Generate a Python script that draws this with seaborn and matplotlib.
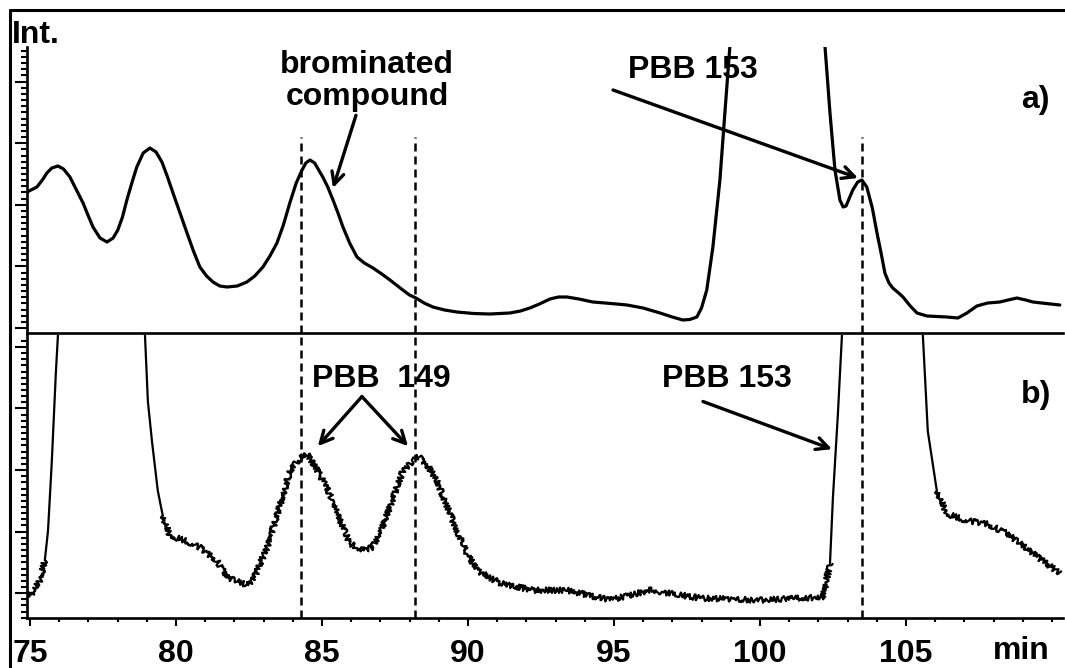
import numpy as np
import matplotlib
matplotlib.use("Agg")
import matplotlib.pyplot as plt
import seaborn as sns
from matplotlib.lines import Line2D
from matplotlib.ticker import FixedLocator

sns.set_style("white")
plt.rcParams['font.family'] = ['Liberation Sans', 'DejaVu Sans']
plt.rcParams['font.weight'] = 'bold'
plt.rcParams['text.color'] = 'black'
plt.rcParams['xtick.color'] = 'black'
plt.rcParams['ytick.color'] = 'black'
plt.rcParams['axes.edgecolor'] = 'black'

# trace a): retention time (min) and intensity (arbitrary units)
time_a = [74.90, 75.24, 75.45, 75.58, 75.75, 75.96, 76.15, 76.37, 76.82, 77.00,
          77.16, 77.40, 77.64, 77.85, 78.01, 78.17, 78.32, 78.50, 78.66, 78.88,
          79.11, 79.32, 79.52, 79.70, 79.90, 80.14, 80.38, 80.60, 80.82, 81.05,
          81.27, 81.50, 81.75, 82.10, 82.43, 82.70, 82.98, 83.22, 83.46, 83.68,
          83.90, 84.12, 84.32, 84.45, 84.59, 84.75, 85.03, 85.20, 85.38, 85.55,
          85.72, 85.95, 86.20, 86.45, 86.75, 87.05, 87.33, 87.55, 87.77, 88.00,
          88.22, 88.50, 88.80, 89.20, 89.62, 90.20, 90.75, 91.44, 91.80, 92.12,
          92.45, 92.81, 93.10, 93.39, 93.80, 94.28, 94.90, 95.45, 96.00, 96.58,
          97.00, 97.36, 97.60, 97.84, 98.00, 98.18, 98.39, 98.63, 98.80, 98.97,
          100.6, 102.23, 102.40, 102.57, 102.74, 102.85, 102.95, 103.18, 103.35, 103.49,
          103.66, 103.85, 104.01, 104.15, 104.28, 104.42, 104.55, 104.75, 104.90, 105.15,
          105.38, 105.72, 106.40, 106.78, 107.09, 107.43, 107.80, 108.22, 108.50, 108.80,
          109.10, 109.35, 109.80, 110.27]
int_a = [141, 146, 154, 160, 165, 167, 164, 156, 130, 117,
         106, 95, 91, 95, 103, 116, 133, 151, 166, 180,
         185, 181, 171, 157, 140, 120, 100, 82, 66, 57,
         51, 47, 46, 47, 51, 57, 66, 77, 90, 108,
         130, 150, 163, 170, 173, 170, 156, 146, 133, 120,
         106, 90, 76, 70, 65, 59, 53, 48, 43, 38,
         35, 30, 26, 23, 21, 19.5, 19, 20, 22, 25,
         29, 34, 36, 36, 34, 31, 29.5, 28, 25, 20,
         16, 13, 13.5, 16, 25, 43, 86, 153, 220, 286,
         2500, 286, 220, 163, 133, 126, 127, 143, 151, 153,
         146, 125, 100, 80, 60, 50, 45, 40, 36, 27,
         20, 17, 16, 15, 20, 27, 30, 31, 33, 35,
         33, 31, 29.5, 28]

# trace b)
time_b = [74.90, 75.10, 75.34, 75.51, 75.62, 75.75, 75.89, 75.96, 77.4, 78.94,
          79.04, 79.18, 79.38, 79.55, 79.79, 80.31, 80.82, 81.40, 81.75, 82.43,
          82.64, 83.12, 83.56, 83.90, 84.25, 84.49, 84.86, 85.27, 85.62, 85.96,
          86.40, 86.71, 86.99, 87.40, 87.77, 88.29, 88.63, 88.94, 89.28, 89.62,
          89.97, 90.31, 91.10, 92.23, 93.39, 94.86, 96.23, 97.95, 100.0, 101.37,
          102.16, 102.40, 102.50, 102.67, 102.81, 104.0, 105.58, 105.75, 106.06, 106.40,
          107.09, 107.77, 108.46, 109.35, 110.27]
int_b = [23, 26, 38, 58, 88, 158, 248, 285, 3000, 285,
         218, 178, 128, 103, 83, 78, 71, 58, 41, 33,
         38, 71, 113, 148, 161, 165, 148, 125, 98, 75,
         68, 71, 85, 118, 148, 163, 153, 138, 113, 88,
         65, 48, 35, 28, 28, 18, 28, 20, 18, 20,
         21, 55, 121, 205, 285, 3000, 285, 188, 128, 105,
         98, 95, 85, 65, 45]

marker_times = [84.28, 88.2, 103.49]
x_major = [75, 80, 85, 90, 95, 100, 105]
x_labels = ['75', '80', '85', '90', '95', '100', '105']

W, H = 1065, 668
fig = plt.figure(figsize=(W / 100, H / 100), dpi=100)
ax_a = fig.add_axes([27 / W, 1 - 333 / H, 1036 / W, 286 / H])
ax_b = fig.add_axes([27 / W, 50 / H, 1036 / W, 283 / H])

sns.lineplot(x=time_a, y=int_a, ax=ax_a, color='black', lw=2.3,
             solid_joinstyle='round', solid_capstyle='round')

# trace b is noisy on the baseline / small peaks, clean on the steep flanks
tb = np.array(time_b)
ib = np.array(int_b, dtype=float)
steep = np.abs(np.diff(ib)) / (np.diff(tb) * 29.2) > 5
start = 0
for k in range(1, len(steep) + 1):
    if k == len(steep) or steep[k] != steep[start]:
        n_before = len(ax_b.get_lines())
        sns.lineplot(x=tb[start:k + 1], y=ib[start:k + 1], ax=ax_b, color='black',
                     lw=1.6, sort=False, solid_joinstyle='round')
        if not steep[start]:
            for ln in ax_b.get_lines()[n_before:]:
                ln.set_sketch_params(scale=2.8, length=1.6, randomness=4)
        start = k

xlim = (74.9, 110.38)
ax_a.set_xlim(*xlim)
ax_b.set_xlim(*xlim)
ax_a.set_ylim(0, 286)
ax_b.set_ylim(0, 285)

for ax in (ax_a, ax_b):
    for s in ('top', 'right'):
        ax.spines[s].set_visible(False)
    for s in ('left', 'bottom'):
        ax.spines[s].set_linewidth(1.9)
        ax.spines[s].set_color('black')
    ax.set_xlabel('')
    ax.set_ylabel('')
    ax.tick_params(axis='y', which='major', direction='out', length=8.5, width=1.5,
                   labelleft=False, left=True, color='black')
    ax.tick_params(axis='y', which='minor', direction='out', length=4.5, width=1.5,
                   left=True, color='black')

ax_a.yaxis.set_major_locator(FixedLocator(np.arange(5, 286, 61.6)))
ax_a.yaxis.set_minor_locator(FixedLocator(np.arange(5, 286, 6.16)))
ax_b.yaxis.set_major_locator(FixedLocator(np.arange(25, 285, 62)))
ax_b.yaxis.set_minor_locator(FixedLocator(np.arange(0.2, 285, 6.2)))

ax_a.tick_params(axis='x', which='both', bottom=False, labelbottom=False)
ax_b.xaxis.set_major_locator(FixedLocator(x_major))
ax_b.xaxis.set_minor_locator(FixedLocator(np.arange(75, 111, 1)))
ax_b.set_xticklabels(x_labels)
ax_b.tick_params(axis='x', which='major', direction='out', length=6, width=1.5,
                 bottom=True, pad=9, labelsize=23, color='black', labelcolor='black')
ax_b.tick_params(axis='x', which='minor', direction='out', length=3, width=1.5,
                 bottom=True, color='black')
for lab in ax_b.get_xticklabels():
    lab.set_fontweight('bold')

# retention markers
dash = (0, (3.2, 2.0))
for t in marker_times:
    ax_a.axvline(t, ymin=0, ymax=196 / 286, color='black', lw=1.8, ls=dash)
    ax_b.axvline(t, ymin=0, ymax=1, color='black', lw=1.8, ls=dash)

arrow = dict(arrowstyle='->', lw=2.4, color='black', shrinkA=0, shrinkB=0,
             mutation_scale=22)
fs = 23

ax_a.annotate('brominated\ncompound', xy=(85.38, 145), xytext=(86.54, 221),
              ha='center', va='bottom', fontsize=fs, fontweight='bold',
              linespacing=1.1, arrowprops=arrow, annotation_clip=False)
ax_a.annotate('', xy=(103.36, 155), xytext=(94.97, 243), arrowprops=arrow,
              annotation_clip=False)
ax_a.text(97.72, 263, 'PBB 153', ha='center', va='center', fontsize=fs,
          fontweight='bold')
ax_a.text(109.45, 233, 'a)', ha='center', va='center', fontsize=fs,
          fontweight='bold')

ax_b.text(87.05, 241, 'PBB  149', ha='center', va='center', fontsize=fs,
          fontweight='bold')
for tip in (84.86, 87.95):
    ax_b.annotate('', xy=(tip, 173), xytext=(86.37, 223), arrowprops=arrow)
ax_b.text(98.87, 241, 'PBB 153', ha='center', va='center', fontsize=fs,
          fontweight='bold')
ax_b.annotate('', xy=(102.47, 170), xytext=(98.05, 218), arrowprops=arrow)
ax_b.text(109.45, 225, 'b)', ha='center', va='center', fontsize=fs,
          fontweight='bold')

fig.text(12 / W, 1 - 43 / H, 'Int.', ha='left', va='baseline', fontsize=fs,
         fontweight='bold')
fig.text(1021 / W, 1 - 651 / H, 'min', ha='center', va='center', fontsize=fs,
         fontweight='bold')

# outer frame
fig.add_artist(Line2D([10 / W, 10 / W], [0, 1 - 10 / H], color='black', lw=2.2,
                      transform=fig.transFigure))
fig.add_artist(Line2D([10 / W, 1], [1 - 10 / H, 1 - 10 / H], color='black', lw=2.2,
                      transform=fig.transFigure))

fig.savefig('out.png', dpi=100)
